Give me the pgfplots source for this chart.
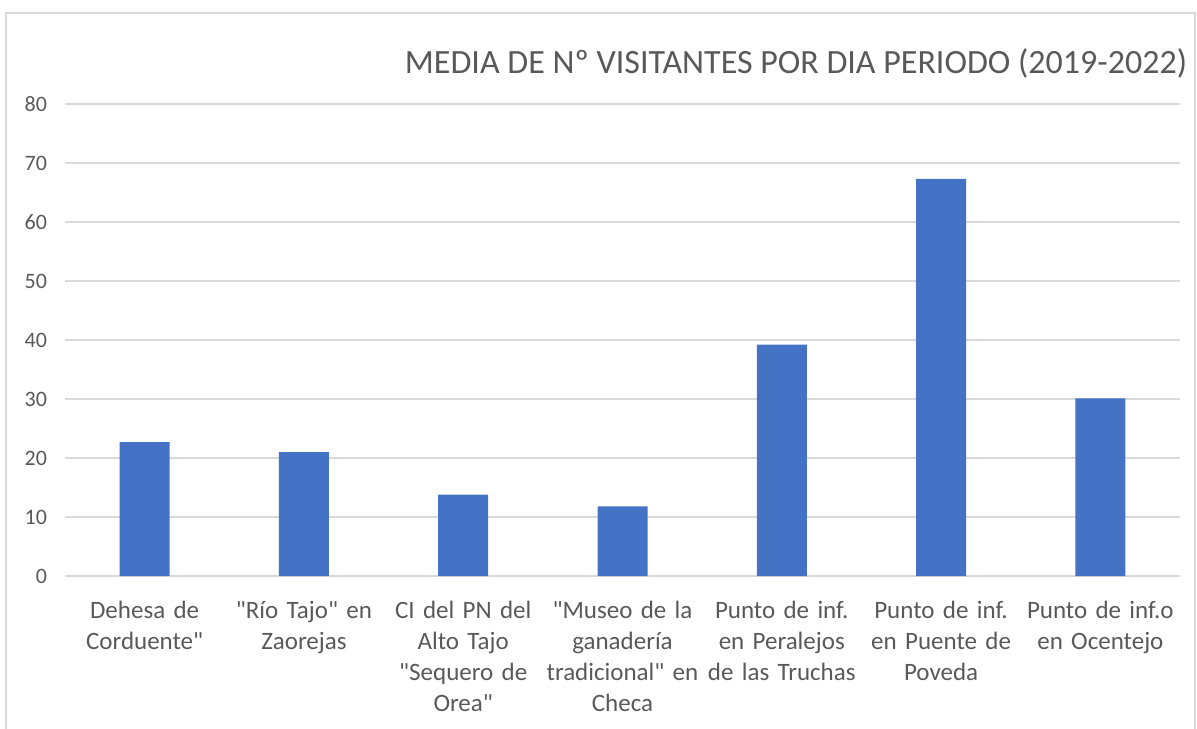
\documentclass[border=0pt]{standalone}
\usepackage{pgfplots}
\pgfplotsset{compat=1.18}
\usepackage{fontspec}
\setmainfont{Carlito}[Ligatures=TeXOff]
\definecolor{barblue}{HTML}{4472C4}
\definecolor{txtgray}{HTML}{595959}
\definecolor{gridgray}{HTML}{D9D9D9}
\begin{document}
\begin{tikzpicture}
\useasboundingbox (0,0) rectangle (598.5pt,364pt);
\draw[gridgray, line width=0.8pt] (3pt,-2pt) -- (3pt,357.5pt) -- (597.5pt,357.5pt) -- (597.5pt,-2pt);
\begin{axis}[
  at={(32.5pt,76pt)}, anchor=south west,
  scale only axis, width=557.5pt, height=236pt,
  xmin=-0.5, xmax=6.5, ymin=0, ymax=80,
  ybar, bar width=25pt,
  ytick={0,10,...,80},
  xtick={0,...,6},
  xticklabels={{Dehesa de\\Corduente"},{"Río Tajo" en\\Zaorejas},{CI del PN del\\Alto Tajo\\"Sequero de\\Orea"},{"Museo de la\\ganadería\\tradicional" en\\Checa},{Punto de inf.\\en Peralejos\\de las Truchas},{Punto de inf.\\en Puente de\\Poveda},{Punto de inf.o\\en Ocentejo}},
  ymajorgrids, major grid style={gridgray, line width=0.8pt},
  axis line style={draw=none},
  tick style={draw=none},
  /pgf/number format/assume math mode=true,
  yticklabel style={font=\fontsize{11}{13}\selectfont, text=txtgray, xshift=-5.5pt},
  xticklabel style={font=\fontsize{12.5}{15.5}\selectfont, text=txtgray, align=center, text width=82pt, anchor=north, yshift=-5pt},
]
\addplot[fill=barblue, draw=none] coordinates {(0,22.7) (1,21.0) (2,13.8) (3,11.8) (4,39.2) (5,67.3) (6,30.1)};
\end{axis}
\node[font=\fontsize{17}{20}\selectfont, text=txtgray] at (398pt,332.5pt) {MEDIA DE Nº VISITANTES POR DIA PERIODO (2019-2022)};
\end{tikzpicture}
\end{document}
